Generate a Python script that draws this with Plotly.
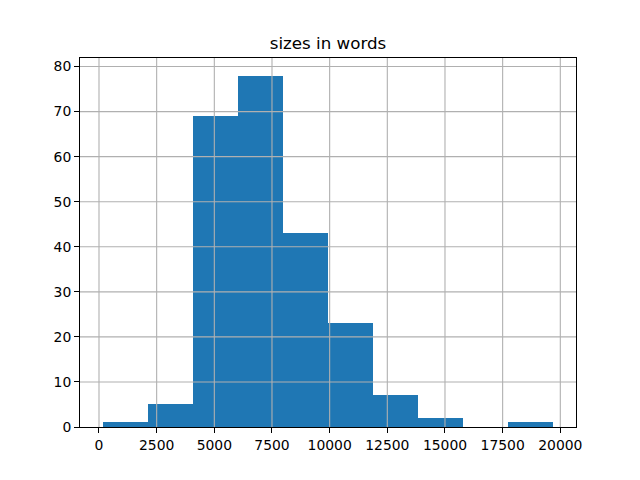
import plotly.graph_objects as go

title = "sizes in words"
bin_edges = [154, 2109, 4064, 6019, 7974, 9929, 11883, 13838, 15793, 17748, 19703]
counts = [1, 5, 69, 78, 43, 23, 7, 2, 0, 1]
x_ticks = [0, 2500, 5000, 7500, 10000, 12500, 15000, 17500, 20000]
y_ticks = [0, 10, 20, 30, 40, 50, 60, 70, 80]

centers = [(bin_edges[i] + bin_edges[i + 1]) / 2 for i in range(len(counts))]
widths = [bin_edges[i + 1] - bin_edges[i] for i in range(len(counts))]

fig = go.Figure(go.Bar(
    x=centers, y=counts, width=widths,
    marker=dict(color="#1f77b4", line=dict(width=0)),
    hoverinfo="x+y",
))

span = bin_edges[-1] - bin_edges[0]
xr = [bin_edges[0] - 0.05 * span, bin_edges[-1] + 0.05 * span]
yr = [0, max(counts) * 1.05]

grid_style = dict(color="#b0b0b0", width=1.1)
shapes = []
for v in x_ticks:
    shapes.append(dict(type="line", xref="x", yref="paper", x0=v, x1=v, y0=0, y1=1,
                       line=grid_style, layer="above"))
for v in y_ticks:
    if v == 0:
        continue
    shapes.append(dict(type="line", xref="paper", yref="y", x0=0, x1=1, y0=v, y1=v,
                       line=grid_style, layer="above"))

axis_common = dict(
    showgrid=False,
    showline=True, linecolor="black", linewidth=1.1, mirror=True,
    ticks="outside", ticklen=4.9, tickwidth=1.1, tickcolor="black",
    tickfont=dict(family="DejaVu Sans", size=13.9, color="black"),
    zeroline=False, layer="above traces",
)

fig.update_layout(
    width=640, height=480,
    margin=dict(l=80, r=64, t=58, b=53),
    paper_bgcolor="white", plot_bgcolor="white",
    title=dict(text=title, x=(80 + 576) / 2 / 640, xanchor="center",
               y=1 - 43 / 480, yanchor="middle",
               font=dict(family="DejaVu Sans", size=16.7, color="black")),
    bargap=0,
    showlegend=False,
    shapes=shapes,
    xaxis=dict(range=xr, tickvals=x_ticks, ticktext=[str(v) for v in x_ticks], **axis_common),
    yaxis=dict(range=yr, tickvals=y_ticks, ticktext=[str(v) for v in y_ticks], **axis_common),
)

fig.write_html("out.html", config={"displayModeBar": False},
               post_script="document.body.style.margin='0';document.body.style.padding='0';")
